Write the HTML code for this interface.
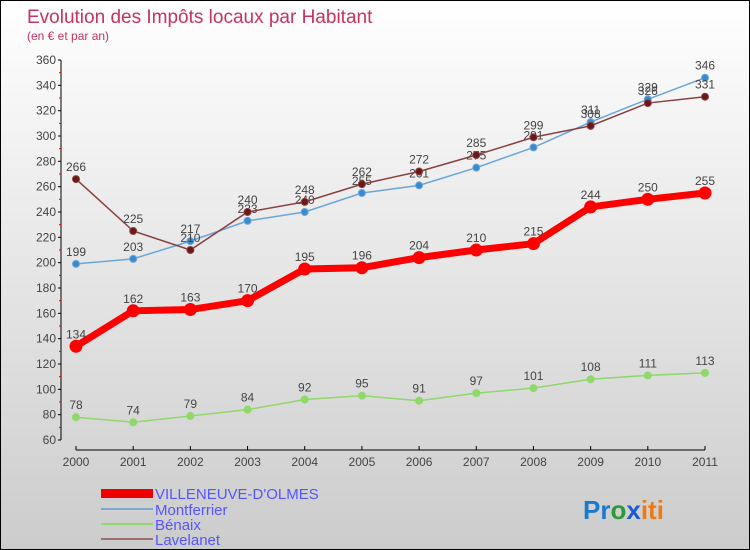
<!DOCTYPE html>
<html><head><meta charset="utf-8"><style>
body{margin:0;}
#c{width:748px;height:548px;border:1px solid #000;background:linear-gradient(#fff,#ccc);position:relative;font-family:"Liberation Sans",sans-serif;overflow:hidden}
</style></head><body>
<div id="c">
<svg id="s" width="748" height="548" style="position:absolute;left:0;top:0">
<text x="26" y="22" font-size="19" fill="#c8325e">Evolution des Impôts locaux par Habitant</text>
<text x="26" y="39" font-size="12" fill="#c8325e">(en € et par an)</text>
<g id="axes"></g><g id="series"></g>
<g>
<rect x="100" y="488" width="52" height="9" fill="#e00"/>
<text x="154" y="498" font-size="15" fill="#55f">VILLENEUVE-D'OLMES</text>
<line x1="100" y1="508" x2="152" y2="508" stroke="#7aaad0" stroke-width="2"/>
<text x="154" y="514" font-size="15" fill="#55f">Montferrier</text>
<line x1="100" y1="523" x2="152" y2="523" stroke="#8fd86a" stroke-width="2"/>
<text x="154" y="529" font-size="15" fill="#55f">Bénaix</text>
<line x1="100" y1="538" x2="152" y2="538" stroke="#a07070" stroke-width="2"/>
<text x="154" y="544" font-size="15" fill="#55f">Lavelanet</text>
</g>
<text x="582" y="518" font-size="26" font-weight="bold"><tspan fill="#1a7ad0">Pr</tspan><tspan fill="#2a9a3a">o</tspan><tspan fill="#1a5ad0">x</tspan><tspan fill="#f07a10">iti</tspan></text>
</svg>
</div>
<script>
const years=[2000,2001,2002,2003,2004,2005,2006,2007,2008,2009,2010,2011];
const villeneuve=[134,162,163,170,195,196,204,210,215,244,250,255];
const montferrier=[199,203,217,233,240,255,261,275,291,311,329,346];
const benaix=[78,74,79,84,92,95,91,97,101,108,111,113];
const lavelanet=[266,225,210,240,248,262,272,285,299,308,326,331];
const yTicks=[60,80,100,120,140,160,180,200,220,240,260,280,300,320,340,360];
const NS="http://www.w3.org/2000/svg";
const X=i=>75+i*(629/11);
const Y=v=>439-(v-60)*(380/300);
function mk(t,a,p){const e=document.createElementNS(NS,t);for(const k in a)e.setAttribute(k,a[k]);p.appendChild(e);return e;}
const ax=document.getElementById('axes');
let yl=mk('line',{x1:60,y1:Y(360),x2:60,y2:Y(60),stroke:'#000'},ax);


yTicks.forEach(v=>{
 mk('line',{x1:57,y1:Y(v),x2:60,y2:Y(v),stroke:'#000'},ax);
 if(v<360)mk('line',{x1:58,y1:Y(v+10),x2:60,y2:Y(v+10),stroke:'#e00'},ax);
 const t=mk('text',{x:55,y:Y(v)+4,'font-size':12,fill:'#444','text-anchor':'end'},ax);t.textContent=v;
 
 
});
let xl=mk('line',{x1:X(0),y1:449,x2:X(11),y2:449,stroke:'#000'},ax);


years.forEach((y,i)=>{
 mk('line',{x1:X(i),y1:445,x2:X(i),y2:449,stroke:'#000'},ax);
 const t=mk('text',{x:X(i),y:465,'font-size':12,fill:'#444','text-anchor':'middle'},ax);t.textContent=y;
 
 
});
const sg=document.getElementById('series');
function draw(name,data,col,w,r,fill){
 const g=mk('g',{},sg);
 
 
 const pl=mk('polyline',{points:data.map((v,i)=>X(i)+','+Y(v)).join(' '),fill:'none',stroke:col,'stroke-width':w},g);
 
 
 data.forEach((v,i)=>{
  const c=mk('circle',{cx:X(i),cy:Y(v),r:r,fill:fill,stroke:col,'stroke-width':1},g);
  
  
  const t=mk('text',{x:X(i),y:Y(v)-8,'font-size':12,fill:'#444','text-anchor':'middle'},g);t.textContent=v;
  
  
 });
}
draw('benaix',benaix,'#8fd86a',1.5,3.5,'#8fd86a');
draw('montferrier',montferrier,'#6aa6d8',1.5,3.5,'#3a8ad0');
draw('lavelanet',lavelanet,'#8a4040',1.5,3.5,'#6a1818');
draw('villeneuve',villeneuve,'#f00',7,6,'#f00');
</script>
</body></html>
